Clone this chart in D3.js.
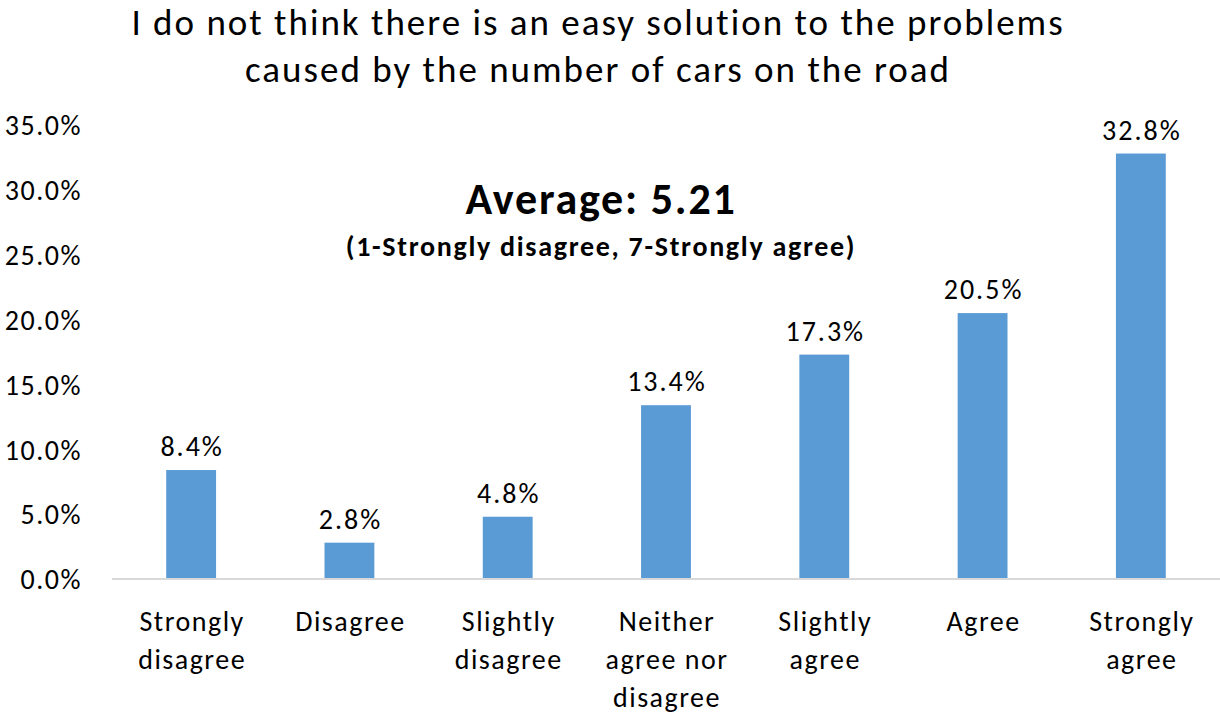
<!DOCTYPE html>
<html>
<head>
<meta charset="utf-8">
<script src="https://d3js.org/d3.v7.min.js"></script>
<style>
  body { margin: 0; background: #fff; }
  svg, svg text { font-family: Calibri, Carlito, Lato, sans-serif; }
  .tick text { fill: #000; }
</style>
</head>
<body>
<svg id="chart"></svg>
<script>
var categories = [
  ["Strongly", "disagree"],
  ["Disagree"],
  ["Slightly", "disagree"],
  ["Neither", "agree nor", "disagree"],
  ["Slightly", "agree"],
  ["Agree"],
  ["Strongly", "agree"]
];
var values = [8.4, 2.8, 4.8, 13.4, 17.3, 20.5, 32.8];
var yTicks = [0, 5, 10, 15, 20, 25, 30, 35];
var titleLines = ["I do not think there is an easy solution to the problems", "caused by the number of cars on the road"];
var average = "Average: 5.21";
var scaleNote = "(1-Strongly disagree, 7-Strongly agree)";

var width = 1220, height = 712;
var margin = {top: 125, right: 0, bottom: 133, left: 112};

var svg = d3.select("#chart")
    .attr("width", width)
    .attr("height", height);

var x = d3.scaleBand()
    .domain(d3.range(categories.length))
    .range([margin.left, width - margin.right])
    .paddingInner(0.685)
    .paddingOuter(0.3425);

var y = d3.scaleLinear()
    .domain([0, 35])
    .range([height - margin.bottom, margin.top]);

// Title
svg.append("g").selectAll("text")
    .data(titleLines)
    .enter().append("text")
    .attr("x", 598)
    .attr("y", function(d, i) { return 35 + i * 47; })
    .attr("text-anchor", "middle")
    .style("font-size", "37px")
    .style("letter-spacing", "2px")
    .text(function(d) { return d; });

// Y axis (labels only)
var yAxis = svg.append("g")
    .attr("transform", "translate(" + (margin.left - 30) + ",0)")
    .call(d3.axisLeft(y).tickValues(yTicks).tickSize(0).tickPadding(0)
      .tickFormat(function(d) { return d.toFixed(1) + "%"; }));
yAxis.attr("font-family", null);
yAxis.select(".domain").remove();
yAxis.selectAll("text")
    .style("font-size", "28px")
    .style("letter-spacing", "1.5px")
    .attr("dy", "0.35em");

// Bars
svg.append("g").selectAll("rect")
    .data(values)
    .enter().append("rect")
    .attr("x", function(d, i) { return x(i); })
    .attr("y", function(d) { return y(d); })
    .attr("width", x.bandwidth())
    .attr("height", function(d) { return y(0) - y(d); })
    .attr("fill", "#5b9bd5");

// Baseline
svg.append("line")
    .attr("x1", margin.left).attr("x2", width)
    .attr("y1", y(0)).attr("y2", y(0))
    .attr("stroke", "#d9d9d9").attr("stroke-width", 2);

// Data labels
svg.append("g").selectAll("text")
    .data(values)
    .enter().append("text")
    .attr("x", function(d, i) { return x(i) + x.bandwidth() / 2 + 1; })
    .attr("y", function(d) { return y(d) - 14; })
    .attr("text-anchor", "middle")
    .style("font-size", "28px")
    .style("letter-spacing", "2px")
    .text(function(d) { return d.toFixed(1) + "%"; });

// Category labels
var cat = svg.append("g").selectAll("text")
    .data(categories)
    .enter().append("text")
    .attr("x", function(d, i) { return x(i) + x.bandwidth() / 2 + 1; })
    .attr("y", 631)
    .attr("text-anchor", "middle")
    .style("font-size", "28px")
    .style("letter-spacing", "1.5px");
cat.selectAll("tspan")
    .data(function(d) { return d; })
    .enter().append("tspan")
    .attr("x", function() { return d3.select(this.parentNode).attr("x"); })
    .attr("dy", function(d, i) { return i === 0 ? 0 : 38; })
    .text(function(d) { return d; });

// Average annotation
svg.append("text")
    .attr("x", 601).attr("y", 214)
    .attr("text-anchor", "middle")
    .style("font-size", "44px").style("font-weight", "bold")
    .style("letter-spacing", "1.8px")
    .text(average);
svg.append("text")
    .attr("x", 601).attr("y", 256)
    .attr("text-anchor", "middle")
    .style("font-size", "28px").style("font-weight", "bold")
    .style("letter-spacing", "1.7px")
    .text(scaleNote);
</script>
</body>
</html>
